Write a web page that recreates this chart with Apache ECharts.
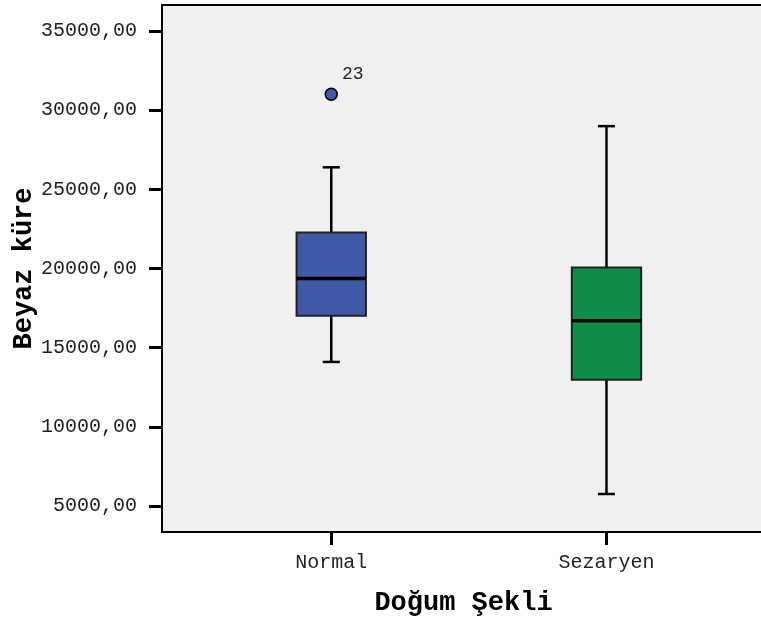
<!DOCTYPE html>
<html>
<head>
<meta charset="utf-8">
<script src="https://cdn.jsdelivr.net/npm/echarts@6/dist/echarts.min.js"></script>
<style>
html,body{margin:0;padding:0;background:#fff;}
#chart{width:761px;height:624px;}
</style>
</head>
<body>
<div id="chart"></div>
<script>
// Data
const categories = ['Normal', 'Sezaryen'];
// [min whisker, Q1, median, Q3, max whisker]
const boxNormal = [14100, 17020, 19370, 22270, 26390];
const boxSezaryen = [5760, 12970, 16700, 20060, 28990];
const outlierValues = [31010];
const outlierCategory = [0];
const outlierLabels = ['23'];
const yTicks = [5000, 10000, 15000, 20000, 25000, 30000, 35000];
const boxColors = ['#3f58a8', '#108c4a'];

const boxes = [boxNormal, boxSezaryen];
const boxData = boxes.map((b, i) => [i + 1].concat(b));
const outlierData = outlierValues.map((v, i) => ({
  value: [outlierCategory[i] + 1, v],
  label: { formatter: outlierLabels[i] }
}));

const chart = echarts.init(document.getElementById('chart'), null, { renderer: 'canvas' });
const mono = '"Liberation Mono", "Courier New", monospace';

chart.setOption({
  animation: false,
  backgroundColor: '#ffffff',
  grid: {
    left: 162, top: 5, right: -4, bottom: 92,
    containLabel: false, outerBoundsMode: 'none',
    show: true, backgroundColor: '#f0f0f0', borderColor: '#000', borderWidth: 2
  },
  xAxis: {
    type: 'value',
    min: 0.385, max: 2.576,
    name: 'Doğum Şekli',
    nameLocation: 'middle',
    nameGap: 58,
    nameMoveOverlap: false,
    nameTextStyle: { fontFamily: mono, fontWeight: 'bold', fontSize: 27, color: '#000' },
    axisLine: { show: true, lineStyle: { color: '#000', width: 2 } },
    axisTick: { show: true, customValues: [1, 2], length: 13, lineStyle: { color: '#000', width: 3 } },
    axisLabel: {
      customValues: [1, 2],
      formatter: v => categories[Math.round(v) - 1] || '',
      fontFamily: mono, fontSize: 20, color: '#222', margin: 21
    },
    splitLine: { show: false }
  },
  yAxis: {
    type: 'value',
    min: 3360, max: 36640,
    name: 'Beyaz küre',
    nameLocation: 'middle',
    nameRotate: 90,
    nameGap: 124,
    nameMoveOverlap: false,
    nameTextStyle: { fontFamily: mono, fontWeight: 'bold', fontSize: 27, color: '#000' },
    axisLine: { show: true, lineStyle: { color: '#000', width: 2 } },
    axisTick: { show: true, customValues: yTicks, length: 13, lineStyle: { color: '#000', width: 3 } },
    axisLabel: {
      customValues: yTicks,
      formatter: v => v.toFixed(2).replace('.', ','),
      fontFamily: mono, fontSize: 20, color: '#222', margin: 25
    },
    splitLine: { show: false }
  },
  series: [
    {
      type: 'custom',
      data: boxData,
      encode: { x: 0, y: [1, 2, 3, 4, 5] },
      renderItem: function (params, api) {
        const x = api.value(0);
        const pMin = api.coord([x, api.value(1)]);
        const pQ1 = api.coord([x, api.value(2)]);
        const pMed = api.coord([x, api.value(3)]);
        const pQ3 = api.coord([x, api.value(4)]);
        const pMax = api.coord([x, api.value(5)]);
        const bw = api.size([0.252, 0])[0];
        const cw = api.size([0.062, 0])[0];
        const cx = pMin[0];
        const color = boxColors[params.dataIndex];
        const black = { stroke: '#000', lineWidth: 2.5 };
        return {
          type: 'group',
          children: [
            { type: 'line', shape: { x1: cx, y1: pQ3[1], x2: cx, y2: pMax[1] }, style: black },
            { type: 'line', shape: { x1: cx, y1: pQ1[1], x2: cx, y2: pMin[1] }, style: black },
            { type: 'line', shape: { x1: cx - cw / 2, y1: pMax[1], x2: cx + cw / 2, y2: pMax[1] }, style: black },
            { type: 'line', shape: { x1: cx - cw / 2, y1: pMin[1], x2: cx + cw / 2, y2: pMin[1] }, style: black },
            { type: 'rect', shape: { x: cx - bw / 2, y: pQ3[1], width: bw, height: pQ1[1] - pQ3[1] },
              style: { fill: color, stroke: '#222', lineWidth: 2 } },
            { type: 'line', shape: { x1: cx - bw / 2, y1: pMed[1], x2: cx + bw / 2, y2: pMed[1] },
              style: { stroke: '#000', lineWidth: 3.5 } }
          ]
        };
      },
      z: 2
    },
    {
      type: 'scatter',
      data: outlierData,
      symbol: 'circle',
      symbolSize: 12,
      itemStyle: { color: '#3f58a8', borderColor: '#000', borderWidth: 1.5, opacity: 1 },
      label: {
        show: true, position: 'right', offset: [-1, -20],
        fontFamily: mono, fontSize: 18, color: '#222'
      },
      z: 3
    }
  ]
});
</script>
</body>
</html>
